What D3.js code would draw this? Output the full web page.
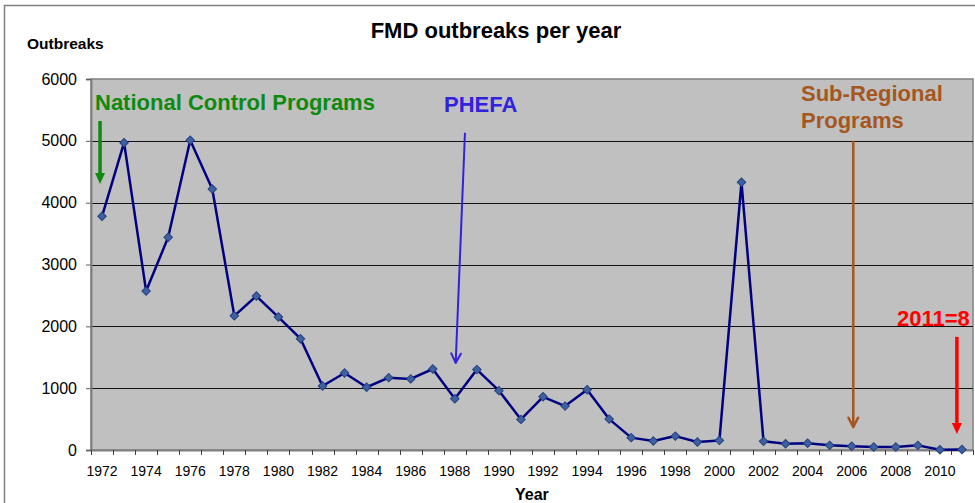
<!DOCTYPE html>
<html>
<head>
<meta charset="utf-8">
<script src="https://cdn.jsdelivr.net/npm/d3@7"></script>
<style>
  body { margin: 0; background: #fff; }
  svg { display: block; font-family: "Liberation Sans", Arial, sans-serif; }
</style>
</head>
<body>
<div id="chart"></div>
<script>
// FMD outbreaks per year
var years = [1972, 1973, 1974, 1975, 1976, 1977, 1978, 1979, 1980, 1981,
             1982, 1983, 1984, 1985, 1986, 1987, 1988, 1989, 1990, 1991,
             1992, 1993, 1994, 1995, 1996, 1997, 1998, 1999, 2000, 2001,
             2002, 2003, 2004, 2005, 2006, 2007, 2008, 2009, 2010, 2011];
var outbreaks = [3780, 4970, 2570, 3440, 5010, 4220, 2170, 2490, 2150, 1800,
                 1035, 1245, 1015, 1170, 1150, 1310, 830, 1300, 960, 495,
                 860, 710, 975, 500, 200, 145, 225, 130, 155, 4330,
                 140, 100, 108, 75, 60, 48, 48, 75, 5, 8];
var yTicks = [0, 1000, 2000, 3000, 4000, 5000, 6000];
var xLabels = [1972, 1974, 1976, 1978, 1980, 1982, 1984, 1986, 1988, 1990,
               1992, 1994, 1996, 1998, 2000, 2002, 2004, 2006, 2008, 2010];

// annotation arrows, in (year, outbreaks) space
var arrows = [
  {x: 1971.91, from: 5320, to: 4300, color: "#0e8a0e", width: 3.5, head: "fill"},
  {x1: 1988.46, x2: 1988.04, from: 5130, to: 1410, color: "#3322dd", width: 2, head: "open"},
  {x: 2006.07, from: 5000, to: 372, color: "#a5571f", width: 2.5, head: "open"},
  {x: 2010.77, from: 1830, to: 260, color: "#ff0000", width: 3.5, head: "fill"}
];

var width = 975, height = 503;
var plot = {left: 91, right: 973, top: 79, bottom: 450};

var svg = d3.select("#chart").append("svg")
    .attr("width", width)
    .attr("height", height);

// outer chart frame
svg.append("rect")
    .attr("x", 4.5).attr("y", 5.5)
    .attr("width", 1000).attr("height", 600)
    .attr("fill", "none")
    .attr("stroke", "#808080")
    .attr("stroke-width", 1.5);

var x = d3.scaleBand().domain(years).range([plot.left, plot.right]);
var xl = d3.scaleLinear().domain([1971.5, 2011.5]).range([plot.left, plot.right]);
var y = d3.scaleLinear().domain([0, 6000]).range([plot.bottom, plot.top]);

// plot background
svg.append("rect")
    .attr("x", plot.left).attr("y", plot.top)
    .attr("width", plot.right - plot.left)
    .attr("height", plot.bottom - plot.top)
    .attr("fill", "#c0c0c0")
    .attr("stroke", "#808080")
    .attr("stroke-width", 1.5);

// gridlines
svg.append("g").selectAll("line")
    .data(yTicks.slice(1, -1))
    .enter().append("line")
    .attr("x1", plot.left).attr("x2", plot.right)
    .attr("y1", d => Math.round(y(d)) + 0.5)
    .attr("y2", d => Math.round(y(d)) + 0.5)
    .attr("stroke", "#111")
    .attr("stroke-width", 1);

// y axis
var yAxis = d3.axisLeft(y).tickValues(yTicks).tickFormat(d3.format("d"))
    .tickSize(5).tickPadding(9);
var gy = svg.append("g")
    .attr("transform", "translate(" + plot.left + ",0)")
    .call(yAxis);
gy.select(".domain").attr("stroke", "#808080").attr("stroke-width", 2);
gy.selectAll(".tick line").attr("stroke", "#606060");
gy.selectAll("text").attr("font-size", 16).attr("fill", "#000")
    .attr("font-family", "Liberation Sans, Arial, sans-serif");

// x axis: labels every other year, ticks at category boundaries
var xAxis = d3.axisBottom(x).tickValues(xLabels).tickSize(0).tickPadding(16);
var gx = svg.append("g")
    .attr("transform", "translate(0," + plot.bottom + ")")
    .call(xAxis);
gx.select(".domain").attr("stroke", "#808080").attr("stroke-width", 2);
gx.selectAll("text").attr("font-size", 14).attr("fill", "#000")
    .attr("font-family", "Liberation Sans, Arial, sans-serif");

svg.append("g").selectAll("line")
    .data(years.concat([2012]))
    .enter().append("line")
    .attr("x1", d => Math.round(xl(d - 0.5)) + 0.5)
    .attr("x2", d => Math.round(xl(d - 0.5)) + 0.5)
    .attr("y1", plot.bottom)
    .attr("y2", plot.bottom + 5)
    .attr("stroke", "#404040");

// data line
var line = d3.line()
    .x((d, i) => x(years[i]) + x.bandwidth() / 2)
    .y(d => y(d));

svg.append("path")
    .datum(outbreaks)
    .attr("d", line)
    .attr("fill", "none")
    .attr("stroke", "#000080")
    .attr("stroke-width", 2.5)
    .attr("stroke-linejoin", "round");

svg.append("g").selectAll("path")
    .data(outbreaks)
    .enter().append("path")
    .attr("d", d3.symbol().type(d3.symbolSquare).size(36))
    .attr("transform", (d, i) => "translate(" + (x(years[i]) + x.bandwidth() / 2) + "," + y(d) + ") rotate(45)")
    .attr("fill", "#3e62a0")
    .attr("stroke", "#263f80")
    .attr("stroke-width", 1);

// arrows
arrows.forEach(function(a) {
  var x1 = xl(a.x1 !== undefined ? a.x1 : a.x);
  var x2 = xl(a.x2 !== undefined ? a.x2 : a.x);
  var y1 = y(a.from), y2 = y(a.to);
  var ang = Math.atan2(y2 - y1, x2 - x1);
  var g = svg.append("g");
  if (a.head == "fill") {
    var hl = 11, hw = 5;
    var bx = x2 - hl * Math.cos(ang), by = y2 - hl * Math.sin(ang);
    g.append("line")
      .attr("x1", x1).attr("y1", y1).attr("x2", bx).attr("y2", by)
      .attr("stroke", a.color).attr("stroke-width", a.width);
    var px = -Math.sin(ang) * hw, py = Math.cos(ang) * hw;
    g.append("path")
      .attr("d", "M" + x2 + "," + y2 + "L" + (bx + px) + "," + (by + py) +
                 "L" + (bx - px) + "," + (by - py) + "Z")
      .attr("fill", a.color);
  } else {
    g.append("line")
      .attr("x1", x1).attr("y1", y1).attr("x2", x2).attr("y2", y2)
      .attr("stroke", a.color).attr("stroke-width", a.width);
    var len = 10.5, spread = 0.48;
    [ang + Math.PI - spread, ang + Math.PI + spread].forEach(function(t) {
      g.append("line")
        .attr("x1", x2).attr("y1", y2)
        .attr("x2", x2 + len * Math.cos(t)).attr("y2", y2 + len * Math.sin(t))
        .attr("stroke", a.color).attr("stroke-width", a.width)
        .attr("stroke-linecap", "round");
    });
  }
});

// texts
svg.append("text")
    .attr("x", 496).attr("y", 38)
    .attr("text-anchor", "middle")
    .attr("font-size", 22).attr("font-weight", "bold")
    .text("FMD outbreaks per year");

svg.append("text")
    .attr("x", 27).attr("y", 49)
    .attr("font-size", 15.5).attr("font-weight", "bold")
    .text("Outbreaks");

svg.append("text")
    .attr("x", 515).attr("y", 500)
    .attr("font-size", 16).attr("font-weight", "bold")
    .text("Year");

var notes = [
  {text: "National Control Programs", x: 95, y: 110, color: "#0e8a0e"},
  {text: "PHEFA", x: 444, y: 112, color: "#3322dd"},
  {text: "Sub-Regional", x: 801, y: 101, color: "#a5571f"},
  {text: "Programs", x: 801, y: 128, color: "#a5571f"},
  {text: "2011=8", x: 897, y: 326, color: "#ff0000"}
];
svg.append("g").selectAll("text")
    .data(notes)
    .enter().append("text")
    .attr("x", d => d.x).attr("y", d => d.y)
    .attr("fill", d => d.color)
    .attr("font-size", 22).attr("font-weight", "bold")
    .text(d => d.text);
</script>
</body>
</html>
